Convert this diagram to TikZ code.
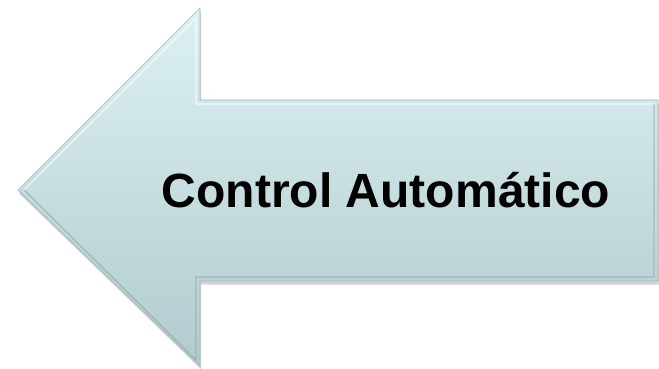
\documentclass[tikz,border=0pt]{standalone}
\usepackage{fontspec}
\setmainfont{Liberation Sans}
\usetikzlibrary{shadows}
\definecolor{flechaclaro}{HTML}{DCF1F4}
\definecolor{flechaoscuro}{HTML}{B3CBCE}
\definecolor{bordeflecha}{HTML}{9FB9BD}
\definecolor{sombraflecha}{HTML}{8FA6A9}

\begin{document}
\begin{tikzpicture}[x=0.03cm,y=-0.03cm]
\useasboundingbox (0,0) rectangle (659,369);
%Flecha
\shade[top color=flechaclaro, bottom color=flechaoscuro, draw=bordeflecha, line width=0.6pt,
  drop shadow={shadow xshift=1pt, shadow yshift=-3pt, opacity=0.35}]
  (18,190) -- (200,8) -- (200,100) -- (658,100) -- (658,281) -- (200,281) -- (200,366) -- cycle;
%Brillo y bisel
\draw[white, opacity=0.7, line width=1.2pt] (24,190) -- (196,18) -- (196,104) -- (654,104);
\draw[sombraflecha, opacity=0.6, line width=1.2pt] (24,190) -- (196,360) -- (196,277) -- (654,277) -- (654,104);
%Texto
\node[font=\bfseries\fontsize{41}{48}\selectfont, anchor=base] (texto) at (386,208) {Control Automático};
\end{tikzpicture}
\end{document}
